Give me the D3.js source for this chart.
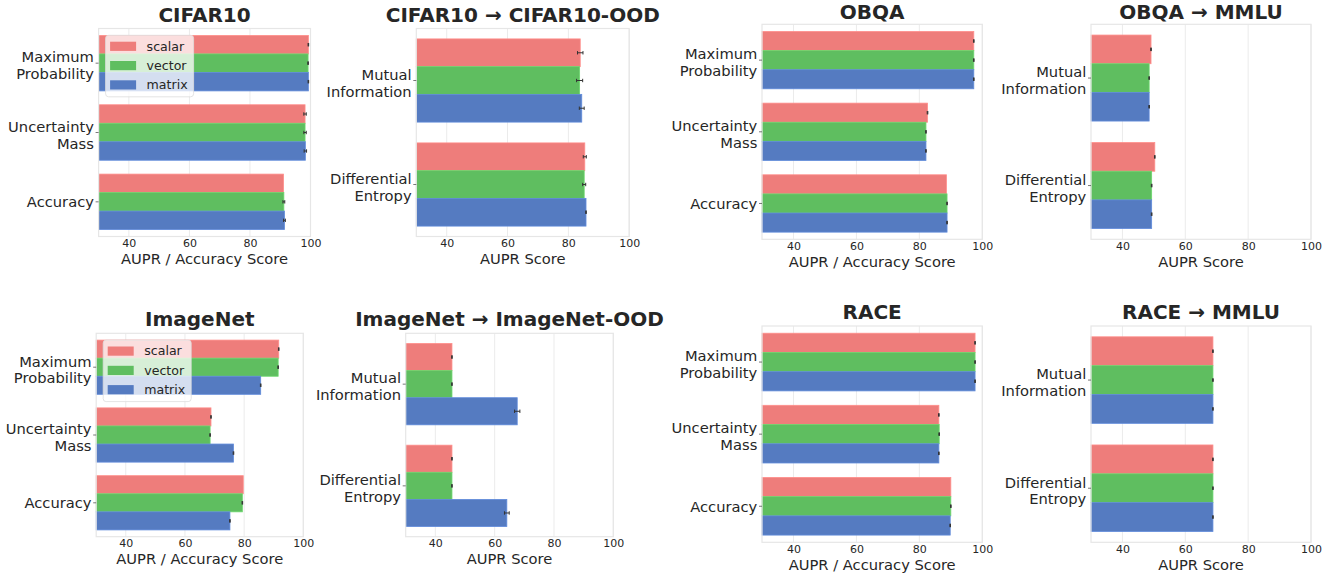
<!DOCTYPE html>
<html>
<head>
<meta charset="utf-8">
<script src="https://cdn.jsdelivr.net/npm/d3@7"></script>
<style>
  body { margin: 0; background: #fff; }
  svg { font-family: 'DejaVu Sans', sans-serif; }
</style>
</head>
<body>
<svg id="chart" width="1339" height="577"></svg>
<script>
// series / categories
const methods = ['scalar', 'vector', 'matrix'];
const idCats = ['Maximum\nProbability', 'Uncertainty\nMass', 'Accuracy'];
const oodCats = ['Mutual\nInformation', 'Differential\nEntropy'];
const xTicks = [40, 60, 80, 100];

// values: one row per method (scalar, vector, matrix), one column per category
const cifar10Vals = [[99.3, 98.2, 91.1], [99.2, 98.2, 91.2], [99.3, 98.3, 91.4]];
const cifar10Errs = [[0.1, 0.4, 0.0], [0.1, 0.4, 0.3], [0.1, 0.4, 0.3]];
const cifarOodVals = [[83.9, 85.4], [83.7, 85.2], [84.4, 85.8]];
const cifarOodErrs = [[0.9, 0.5], [1.0, 0.5], [0.8, 0.1]];
const obqaVals = [[97.3, 82.6, 88.6], [97.3, 82.1, 88.8], [97.3, 82.1, 88.8]];
const obqaErrs = [[0.1, 0.1, 0.0], [0.1, 0.1, 0.1], [0.1, 0.1, 0.1]];
const obqaMmluVals = [[49.1, 50.3], [48.5, 49.3], [48.5, 49.3]];
const obqaMmluErrs = [[0.1, 0.1], [0.1, 0.1], [0.1, 0.1]];
const imagenetVals = [[91.7, 68.8, 79.7], [91.5, 68.5, 79.4], [85.6, 76.4, 75.2]];
const imagenetErrs = [[0.1, 0.1, 0.0], [0.1, 0.1, 0.1], [0.1, 0.1, 0.1]];
const imagenetOodVals = [[45.6, 45.6], [45.6, 45.6], [67.6, 64.1]];
const imagenetOodErrs = [[0.1, 0.1], [0.1, 0.1], [0.9, 0.8]];
const raceVals = [[97.7, 86.2, 90.0], [97.7, 86.3, 90.0], [97.7, 86.2, 89.8]];
const raceErrs = [[0.1, 0.1, 0.0], [0.1, 0.1, 0.1], [0.1, 0.1, 0.1]];
const raceMmluVals = [[68.8, 68.8], [68.8, 68.8], [68.8, 68.8]];
const raceMmluErrs = [[0.1, 0.1], [0.1, 0.1], [0.1, 0.1]];

const colors = {scalar: '#ee7d7b', vector: '#5fbe60', matrix: '#557bc1'};
const textColor = '#262626';

// frame box per panel: [left, top, right, bottom]
const panels = [
    {title: 'CIFAR10', cats: idCats, vals: cifar10Vals, errs: cifar10Errs, xLabel: 'AUPR / Accuracy Score', box: [98.6, 28.5, 310.5, 236.5], legend: true},
    {title: 'CIFAR10 \u2192 CIFAR10-OOD', cats: oodCats, vals: cifarOodVals, errs: cifarOodErrs, xLabel: 'AUPR Score', box: [416.3, 28.5, 629.2, 236.5]},
    {title: 'OBQA', cats: idCats, vals: obqaVals, errs: obqaErrs, xLabel: 'AUPR / Accuracy Score', box: [762, 24.3, 982.3, 239.3]},
    {title: 'OBQA \u2192 MMLU', cats: oodCats, vals: obqaMmluVals, errs: obqaMmluErrs, xLabel: 'AUPR Score', box: [1091, 24.3, 1311, 239.3]},
    {title: 'ImageNet', cats: idCats, vals: imagenetVals, errs: imagenetErrs, xLabel: 'AUPR / Accuracy Score', box: [96.2, 333.3, 303.3, 536.7], legend: true},
    {title: 'ImageNet \u2192 ImageNet-OOD', cats: oodCats, vals: imagenetOodVals, errs: imagenetOodErrs, xLabel: 'AUPR Score', box: [405.7, 333.3, 613.3, 536.7]},
    {title: 'RACE', cats: idCats, vals: raceVals, errs: raceErrs, xLabel: 'AUPR / Accuracy Score', box: [762, 326, 982.3, 542.3]},
    {title: 'RACE \u2192 MMLU', cats: oodCats, vals: raceMmluVals, errs: raceMmluErrs, xLabel: 'AUPR Score', box: [1091, 326, 1311, 542.3]}
];

const svg = d3.select('#chart');

panels.forEach(function (p) {
    const [x0, y0, x1, y1] = p.box;
    const g = svg.append('g');

    const x = d3.scaleLinear().domain([30, 100]).range([x0, x1]);
    const y = d3.scaleBand().domain(p.cats).range([y0, y1]).paddingInner(0.2).paddingOuter(0.1);
    const yInner = d3.scaleBand().domain(methods).range([0, y.bandwidth()]);

    // grid lines
    g.append('g')
        .selectAll('line')
        .data(xTicks)
        .enter()
        .append('line')
        .attr('x1', d => x(d)).attr('x2', d => x(d))
        .attr('y1', y0).attr('y2', y1)
        .attr('stroke', '#ebebeb')
        .attr('stroke-width', 1);

    // bars
    methods.forEach(function (m, mi) {
        g.append('g')
            .selectAll('rect')
            .data(p.cats)
            .enter()
            .append('rect')
            .attr('x', x(30))
            .attr('y', c => y(c) + yInner(m))
            .attr('width', (c, ci) => x(p.vals[mi][ci]) - x(30))
            .attr('height', yInner.bandwidth())
            .attr('fill', colors[m])
            .attr('stroke', d3.color(colors[m]).brighter(0.35))
            .attr('stroke-width', 0.8);
    });

    // error bars
    methods.forEach(function (m, mi) {
        p.cats.forEach(function (c, ci) {
            const v = p.vals[mi][ci], e = p.errs[mi][ci];
            if (e <= 0) return;
            const cy = y(c) + yInner(m) + yInner.bandwidth() / 2;
            const eb = g.append('g').attr('stroke', '#333').attr('stroke-width', 1);
            eb.append('line').attr('x1', x(v - e)).attr('x2', x(v + e)).attr('y1', cy).attr('y2', cy);
            [v - e, v + e].forEach(function (xv) {
                eb.append('line').attr('x1', x(xv)).attr('x2', x(xv)).attr('y1', cy - 1.7).attr('y2', cy + 1.7);
            });
        });
    });

    // frame
    g.append('rect')
        .attr('x', x0).attr('y', y0)
        .attr('width', x1 - x0).attr('height', y1 - y0)
        .attr('fill', 'none')
        .attr('stroke', '#e6e6e6')
        .attr('stroke-width', 1.2);

    // x axis
    const xa = g.append('g')
        .attr('transform', `translate(0,${y1})`)
        .call(d3.axisBottom(x).tickValues(xTicks).tickSize(0).tickPadding(0));
    xa.select('.domain').remove();
    xa.selectAll('text')
        .attr('dy', null)
        .attr('y', 10.3)
        .style('font-size', '11px')
        .style('font-family', 'DejaVu Sans')
        .attr('fill', textColor);

    // y axis with two-line labels
    const ya = g.append('g')
        .attr('transform', `translate(${x0},0)`)
        .call(d3.axisLeft(y).tickSize(3).tickPadding(5));
    ya.select('.domain').remove();
    ya.selectAll('.tick line').attr('stroke', '#555').attr('stroke-width', 0.8);
    ya.selectAll('.tick text').each(function (d) {
        const t = d3.select(this);
        const lines = d.split('\n');
        t.text(null)
            .attr('dy', null)
            .attr('y', 0)
            .style('font-size', '14.7px')
            .style('font-family', 'DejaVu Sans')
            .attr('fill', textColor);
        const first = lines.length === 1 ? 5.3 : -0.7;
        lines.forEach(function (ln, i) {
            t.append('tspan').attr('x', -4.7).attr('y', first + i * 16.8).text(ln);
        });
    });

    // x axis label
    g.append('text')
        .attr('x', (x0 + x1) / 2)
        .attr('y', y1 + 27.3)
        .attr('text-anchor', 'middle')
        .style('font-size', '14.7px')
        .attr('fill', textColor)
        .text(p.xLabel);

    // title
    g.append('text')
        .attr('x', (x0 + x1) / 2)
        .attr('y', Math.max(y0 - 7, 19))
        .attr('text-anchor', 'middle')
        .style('font-size', '20px')
        .style('font-weight', 'bold')
        .attr('fill', textColor)
        .text(p.title);

    // legend
    if (p.legend) {
        const lg = g.append('g').attr('transform', `translate(${x0 + 7},${y0 + 6.8})`);
        lg.append('rect')
            .attr('width', 88).attr('height', 61.5)
            .attr('rx', 3)
            .attr('fill', 'rgba(255,255,255,0.75)')
            .attr('stroke', '#dddddd')
            .attr('stroke-width', 0.8);
        methods.forEach(function (m, i) {
            const cy = 11 + i * 19.3;
            lg.append('rect')
                .attr('x', 4.5).attr('y', cy - 4.6)
                .attr('width', 26).attr('height', 9.2)
                .attr('fill', colors[m]);
            lg.append('text')
                .attr('x', 41).attr('y', cy + 4.4)
                .style('font-size', '12.6px')
                .attr('fill', textColor)
                .text(m);
        });
    }
});
</script>
</body>
</html>
